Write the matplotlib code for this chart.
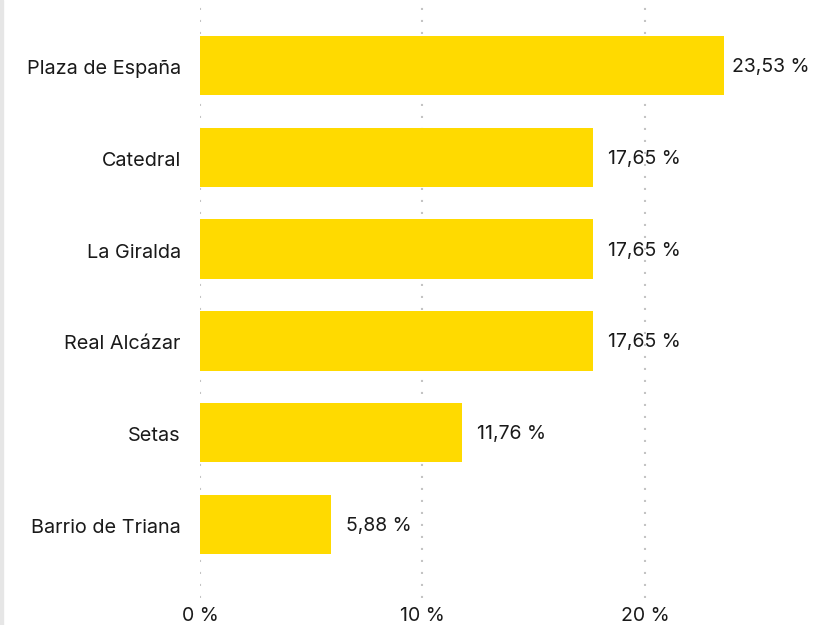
import matplotlib
matplotlib.use("Agg")
import matplotlib.pyplot as plt
from matplotlib.patches import Rectangle
from matplotlib.transforms import ScaledTranslation

categories = ["Plaza de España", "Catedral", "La Giralda", "Real Alcázar", "Setas", "Barrio de Triana"]
values = [23.53, 17.65, 17.65, 17.65, 11.76, 5.88]
xticks = [0, 10, 20]
xtick_labels = ["0 %", "10 %", "20 %"]

plt.rcParams['font.family'] = ['Inter', 'DejaVu Sans']

W, H = 828, 625
PX = 22.25  # pixels per data unit
fig = plt.figure(figsize=(W/100, H/100), dpi=100)
fig.patch.set_facecolor('white')
ax = fig.add_axes([200/W, (H-598)/H, (W-200)/W, 598/H])

ypos = list(range(len(categories)))
ax.barh(ypos, values, height=0.645, color='#FFDA00', zorder=2)

ax.set_xlim(0, (W-200)/PX)
ax.set_ylim(5 + (598-524.5)/91.8, -65.5/91.8)
ax.set_yticks(ypos)
ax.set_yticklabels(categories, fontsize=14.3, color='#1a1a1a')
ax.set_xticks(xticks)
ax.set_xticklabels(xtick_labels, fontsize=14, color='#1a1a1a')
ax.tick_params(axis='both', length=0)
ax.tick_params(axis='y', pad=13.9)
ax.tick_params(axis='x', pad=6.5)
for s in ax.spines.values():
    s.set_visible(False)
for t in xticks:
    ax.axvline(t, color='#c4c4c4', lw=1.5, linestyle=(0, (1, 4.76)), zorder=1)

down = ScaledTranslation(0, -1.5/100, fig.dpi_scale_trans)
for lab in ax.get_yticklabels():
    lab.set_transform(lab.get_transform() + down)

fig.canvas.draw()
renderer = fig.canvas.get_renderer()
right_limit = (806 - 200) / PX
for y, v in zip(ypos, values):
    txt = ax.text(v + 15/PX, y, f"{v:.2f}".replace('.', ',') + " %", va='center', ha='left',
                  fontsize=14, color='#1a1a1a', zorder=3, transform=ax.transData + down)
    bb = txt.get_window_extent(renderer=renderer)
    wdata = bb.width / PX
    if v + 15/PX + wdata > right_limit:
        txt.set_x(max(v + 8/PX, right_limit - wdata))

fig.add_artist(Rectangle((0, 0), 3/W, 1, transform=fig.transFigure, color='#e6e6e6', zorder=0))

fig.savefig("out.png", dpi=100)
